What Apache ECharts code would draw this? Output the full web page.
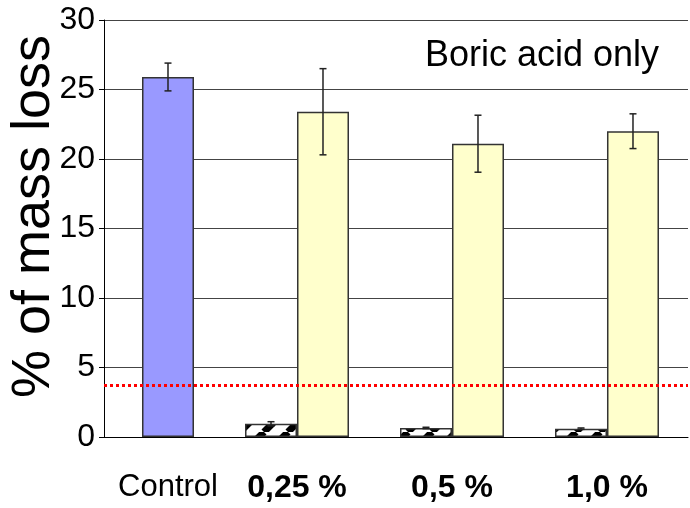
<!DOCTYPE html>
<html>
<head>
<meta charset="utf-8">
<title>Boric acid only</title>
<script src="https://cdn.jsdelivr.net/npm/echarts@6/dist/echarts.min.js"></script>
<style>
  html, body { margin: 0; padding: 0; background: #fff; }
  #main { width: 690px; height: 508px; }
</style>
</head>
<body>
<div id="main"></div>
<script>
// categories along the bottom
var categories = ['Control', '0,25 %', '0,5 %', '1,0 %'];
// control bar (blue) and its error
var controlValues = [25.9];
var controlErrors = [1.0];
// small hatched bars (one per concentration)
var hatchValues = [0.95, 0.65, 0.6];
var hatchErrors = [0.15, 0.05, 0.05];
// boric acid bars (yellow)
var boricValues = [23.4, 21.1, 22.0];
var boricErrors = [3.1, 2.05, 1.25];
// red dotted reference level
var refLevel = [3.74];
// y ticks
var yTicks = [0, 5, 10, 15, 20, 25, 30];

(function (win) {
    var chart = {
        init: function () {
            this.half = 0.1677;   // half a bar, in group units
            this.build();
        },
        // diagonal stripes for the small bars
        hatch: function () {
            var c = document.createElement('canvas');
            c.width = 24; c.height = 24;
            var ctx = c.getContext('2d');
            ctx.fillStyle = '#fff';
            ctx.fillRect(0, 0, 24, 24);
            ctx.strokeStyle = '#000';
            ctx.lineWidth = 7;
            for (var k = -24; k <= 24; k += 24) {
                ctx.beginPath();
                ctx.moveTo(k, 24);
                ctx.lineTo(k + 24, 0);
                ctx.stroke();
            }
            return c;
        },
        build: function () {
            var h = this.half;
            var blue = [], hatch = [], yellow = [], errs = [];
            // control sits on the right half of group 1
            for (var i = 0; i < controlValues.length; i++) {
                blue.push([1 + h, controlValues[i]]);
                errs.push([1 + h, controlValues[i] - controlErrors[i], controlValues[i] + controlErrors[i]]);
            }
            for (var j = 0; j < hatchValues.length; j++) {
                hatch.push([j + 2 - h, hatchValues[j]]);
                errs.push([j + 2 - h, hatchValues[j] - hatchErrors[j], hatchValues[j] + hatchErrors[j]]);
            }
            for (var k = 0; k < boricValues.length; k++) {
                yellow.push([k + 2 + h, boricValues[k]]);
                errs.push([k + 2 + h, boricValues[k] - boricErrors[k], boricValues[k] + boricErrors[k]]);
            }
            var labelPos = [1 + h, 2, 3, 4];

            var font = "'Liberation Sans', Arial, sans-serif";
            var barBorder = { borderColor: '#333', borderWidth: 1.5 };

            var option = {
                animation: false,
                backgroundColor: '#fff',
                title: {
                    text: 'Boric acid only',
                    right: 26, top: 33,
                    textStyle: { fontFamily: font, fontSize: 36, fontWeight: 'normal', color: '#000' }
                },
                grid: { left: 104, right: 2, top: 20, bottom: 71, outerBoundsMode: 'none', containLabel: false },
                xAxis: {
                    type: 'value',
                    min: 0.7548, max: 4.5226,
                    splitLine: { show: false },
                    axisTick: { show: false },
                    axisLine: { show: true, onZero: false, lineStyle: { color: '#000', width: 1 } },
                    axisLabel: {
                        customValues: labelPos,
                        margin: 35,
                        formatter: function (v) {
                            var idx = Math.round(v) - 1;
                            return idx === 0 ? '{n|' + categories[idx] + '}' : '{b|' + categories[idx] + '}';
                        },
                        rich: {
                            n: { fontFamily: font, fontSize: 31, color: '#000' },
                            b: { fontFamily: font, fontSize: 32, fontWeight: 'bold', color: '#000' }
                        }
                    }
                },
                yAxis: {
                    type: 'value',
                    min: yTicks[0], max: yTicks[yTicks.length - 1], interval: 5,
                    name: '% of mass loss',
                    nameLocation: 'middle',
                    nameRotate: 90,
                    nameGap: 43,
                    nameMoveOverlap: false,
                    nameTextStyle: { fontFamily: font, fontSize: 54, color: '#000', padding: [0, 0, 0, 24] },
                    axisLine: { show: true, lineStyle: { color: '#000', width: 1 } },
                    axisTick: { show: true, length: 5, lineStyle: { color: '#000' } },
                    axisLabel: { margin: 9, fontFamily: font, fontSize: 32, color: '#000' },
                    splitLine: { show: true, lineStyle: { color: '#444', width: 1 } }
                },
                series: [{
                    name: 'Control',
                    type: 'bar',
                    barWidth: 52,
                    barGap: '-100%',
                    data: blue,
                    itemStyle: Object.assign({ color: '#9999ff' }, barBorder)
                }, {
                    name: 'hatch',
                    type: 'bar',
                    barWidth: 52,
                    barGap: '-100%',
                    data: hatch,
                    itemStyle: Object.assign({ color: { image: this.hatch(), repeat: 'repeat' } }, barBorder)
                }, {
                    name: 'Boric acid',
                    type: 'bar',
                    barWidth: 52,
                    barGap: '-100%',
                    data: yellow,
                    itemStyle: Object.assign({ color: '#ffffcc' }, barBorder),
                    markLine: {
                        silent: true,
                        symbol: 'none',
                        label: { show: false },
                        lineStyle: { color: '#ff0000', type: [3, 3], width: 3 },
                        data: [{ yAxis: refLevel[0] }]
                    }
                }, {
                    // error bars
                    type: 'custom',
                    z: 10,
                    data: errs,
                    renderItem: function (params, api) {
                        var x = api.value(0);
                        var lo = api.coord([x, api.value(1)]);
                        var hi = api.coord([x, api.value(2)]);
                        var cap = 3.5;
                        var st = { stroke: '#222', lineWidth: 1.5 };
                        return {
                            type: 'group',
                            children: [
                                { type: 'line', shape: { x1: lo[0], y1: lo[1], x2: hi[0], y2: hi[1] }, style: st },
                                { type: 'line', shape: { x1: hi[0] - cap, y1: hi[1], x2: hi[0] + cap, y2: hi[1] }, style: st },
                                { type: 'line', shape: { x1: lo[0] - cap, y1: lo[1], x2: lo[0] + cap, y2: lo[1] }, style: st }
                            ]
                        };
                    }
                }]
            };

            var myChart = echarts.init(document.getElementById('main'));
            myChart.setOption(option);
        }
    };
    chart.init();
})(window);
</script>
</body>
</html>
